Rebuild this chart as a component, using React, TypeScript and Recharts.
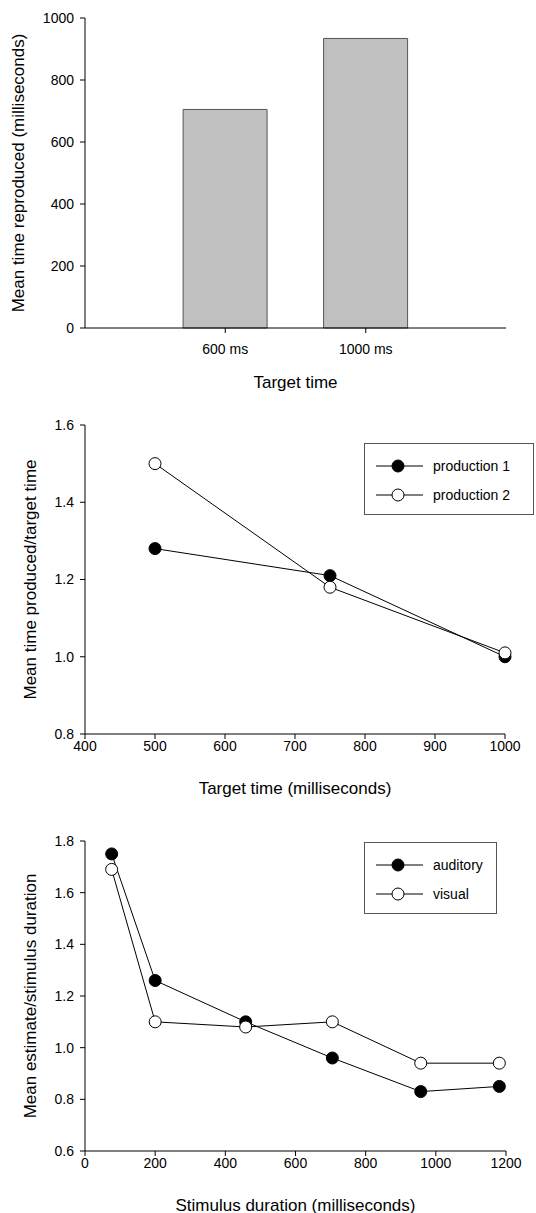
import {
  BarChart,
  Bar,
  LineChart,
  Line,
  XAxis,
  YAxis,
  Label,
} from "recharts";

const FONT = "'Liberation Sans', Arial, sans-serif";

// chart 1
const TARGETS = ["600 ms", "1000 ms"];
const REPRODUCED = [705, 934];
const REPRO_TICKS = [0, 200, 400, 600, 800, 1000];

// chart 2
const TARGET_MS = [500, 750, 1000];
const PRODUCTION_1 = [1.28, 1.21, 1.0];
const PRODUCTION_2 = [1.5, 1.18, 1.01];
const RATIO_TICKS = [0.8, 1.0, 1.2, 1.4, 1.6];
const TARGET_TICKS = [400, 500, 600, 700, 800, 900, 1000];

// chart 3
const STIMULUS_MS = [76, 200, 458, 705, 957, 1181];
const AUDITORY = [1.75, 1.26, 1.1, 0.96, 0.83, 0.85];
const VISUAL = [1.69, 1.1, 1.08, 1.1, 0.94, 0.94];
const ESTIMATE_TICKS = [0.6, 0.8, 1.0, 1.2, 1.4, 1.6, 1.8];
const STIMULUS_TICKS = [0, 200, 400, 600, 800, 1000, 1200];

const barData = TARGETS.map((t, i) => ({ target: t, value: REPRODUCED[i] }));
const prodData = TARGET_MS.map((t, i) => ({ t, p1: PRODUCTION_1[i], p2: PRODUCTION_2[i] }));
const stimData = STIMULUS_MS.map((t, i) => ({ t, aud: AUDITORY[i], vis: VISUAL[i] }));

const tick = { fill: "#000", fontSize: 14, fontFamily: FONT };
const axisLine = { stroke: "#000", strokeWidth: 1 };

const yTitle = (text: string, dx: number) => (props: any) => {
  const vb = props.viewBox;
  const cx = vb.x + dx;
  const cy = vb.y + vb.height / 2;
  return (
    <text
      x={cx}
      y={cy}
      transform={`rotate(-90 ${cx} ${cy})`}
      textAnchor="middle"
      dominantBaseline="central"
      fontSize={17}
      fontFamily={FONT}
      fill="#000"
    >
      {text}
    </text>
  );
};

const xTitle = (text: string) => (props: any) => {
  const vb = props.viewBox;
  return (
    <text
      x={vb.x + vb.width / 2}
      y={vb.y + 54}
      textAnchor="middle"
      dominantBaseline="central"
      fontSize={17}
      fontFamily={FONT}
      fill="#000"
    >
      {text}
    </text>
  );
};

const LegendBox = ({
  items,
  width,
  left,
  top,
}: {
  items: { name: string; fill: string }[];
  width: number;
  left: number;
  top: number;
}) => (
  <svg width={width} height={72} style={{ position: "absolute", left, top }}>
    <rect x={0.5} y={0.5} width={width - 1} height={71} fill="#fff" stroke="#555" strokeWidth={1} />
    {items.map((it, i) => {
      const y = 23 + i * 29;
      return (
        <g key={it.name}>
          <line x1={12} x2={59} y1={y} y2={y} stroke="#000" strokeWidth={1} />
          <circle cx={34} cy={y} r={6} fill={it.fill} stroke="#000" strokeWidth={1} />
          <text x={69} y={y} dominantBaseline="central" fontSize={14} fontFamily={FONT} fill="#000">
            {it.name}
          </text>
        </g>
      );
    })}
  </svg>
);

const dotFilled = { r: 6, fill: "#000", stroke: "#000", strokeWidth: 1 };
const dotOpen = { r: 6, fill: "#fff", stroke: "#000", strokeWidth: 1 };

export default function App() {
  return (
    <div
      style={{
        position: "absolute",
        left: 0,
        top: 0,
        width: 536,
        height: 1213,
        background: "#fff",
        overflow: "hidden",
      }}
    >
      <BarChart
        width={536}
        height={400}
        data={barData}
        margin={{ top: 18, right: 30, bottom: 0, left: 0 }}
        barCategoryGap="20%"
      >
        <XAxis
          dataKey="target"
          height={72}
          padding={{ left: 70, right: 70 }}
          tick={tick}
          axisLine={axisLine}
          tickLine={axisLine}
          tickSize={5}
          tickMargin={11}
        >
          <Label content={xTitle("Target time")} />
        </XAxis>
        <YAxis
          width={85}
          domain={[0, 1000]}
          ticks={REPRO_TICKS}
          tick={tick}
          axisLine={axisLine}
          tickLine={axisLine}
          tickSize={5}
          tickMargin={6}
        >
          <Label content={yTitle("Mean time reproduced (milliseconds)", 18)} />
        </YAxis>
        <Bar dataKey="value" fill="#c0c0c0" stroke="#555" strokeWidth={1} isAnimationActive={false} />
      </BarChart>

      <div style={{ position: "relative", width: 536, height: 400 }}>
        <LineChart
          width={536}
          height={400}
          data={prodData}
          margin={{ top: 25, right: 31, bottom: 0, left: 0 }}
        >
          <XAxis
            dataKey="t"
            type="number"
            domain={[400, 1000]}
            ticks={TARGET_TICKS}
            height={66}
            tick={tick}
            axisLine={axisLine}
            tickLine={axisLine}
            tickSize={5}
            tickMargin={2}
          >
            <Label content={xTitle("Target time (milliseconds)")} />
          </XAxis>
          <YAxis
            width={85}
            domain={[0.8, 1.6]}
            ticks={RATIO_TICKS}
            tickFormatter={(v: number) => v.toFixed(1)}
            tick={tick}
            axisLine={axisLine}
            tickLine={axisLine}
            tickSize={5}
            tickMargin={6}
          >
            <Label content={yTitle("Mean time produced/target time", 30)} />
          </YAxis>
          <Line dataKey="p1" name="production 1" stroke="#000" strokeWidth={1} dot={dotFilled} isAnimationActive={false} />
          <Line dataKey="p2" name="production 2" stroke="#000" strokeWidth={1} dot={dotOpen} isAnimationActive={false} />
        </LineChart>
        <LegendBox
          left={364}
          top={43}
          width={170}
          items={[
            { name: "production 1", fill: "#000" },
            { name: "production 2", fill: "#fff" },
          ]}
        />
      </div>

      <div style={{ position: "relative", width: 536, height: 413 }}>
        <LineChart
          width={536}
          height={413}
          data={stimData}
          margin={{ top: 41, right: 30, bottom: 0, left: 0 }}
        >
          <XAxis
            dataKey="t"
            type="number"
            domain={[0, 1200]}
            ticks={STIMULUS_TICKS}
            height={62}
            tick={tick}
            axisLine={axisLine}
            tickLine={axisLine}
            tickSize={5}
            tickMargin={2}
          >
            <Label content={xTitle("Stimulus duration (milliseconds)")} />
          </XAxis>
          <YAxis
            width={85}
            domain={[0.6, 1.8]}
            ticks={ESTIMATE_TICKS}
            tickFormatter={(v: number) => v.toFixed(1)}
            tick={tick}
            axisLine={axisLine}
            tickLine={axisLine}
            tickSize={5}
            tickMargin={6}
          >
            <Label content={yTitle("Mean estimate/stimulus duration", 30)} />
          </YAxis>
          <Line dataKey="aud" name="auditory" stroke="#000" strokeWidth={1} dot={dotFilled} isAnimationActive={false} />
          <Line dataKey="vis" name="visual" stroke="#000" strokeWidth={1} dot={dotOpen} isAnimationActive={false} />
        </LineChart>
        <LegendBox
          left={364}
          top={42}
          width={133}
          items={[
            { name: "auditory", fill: "#000" },
            { name: "visual", fill: "#fff" },
          ]}
        />
      </div>
    </div>
  );
}
